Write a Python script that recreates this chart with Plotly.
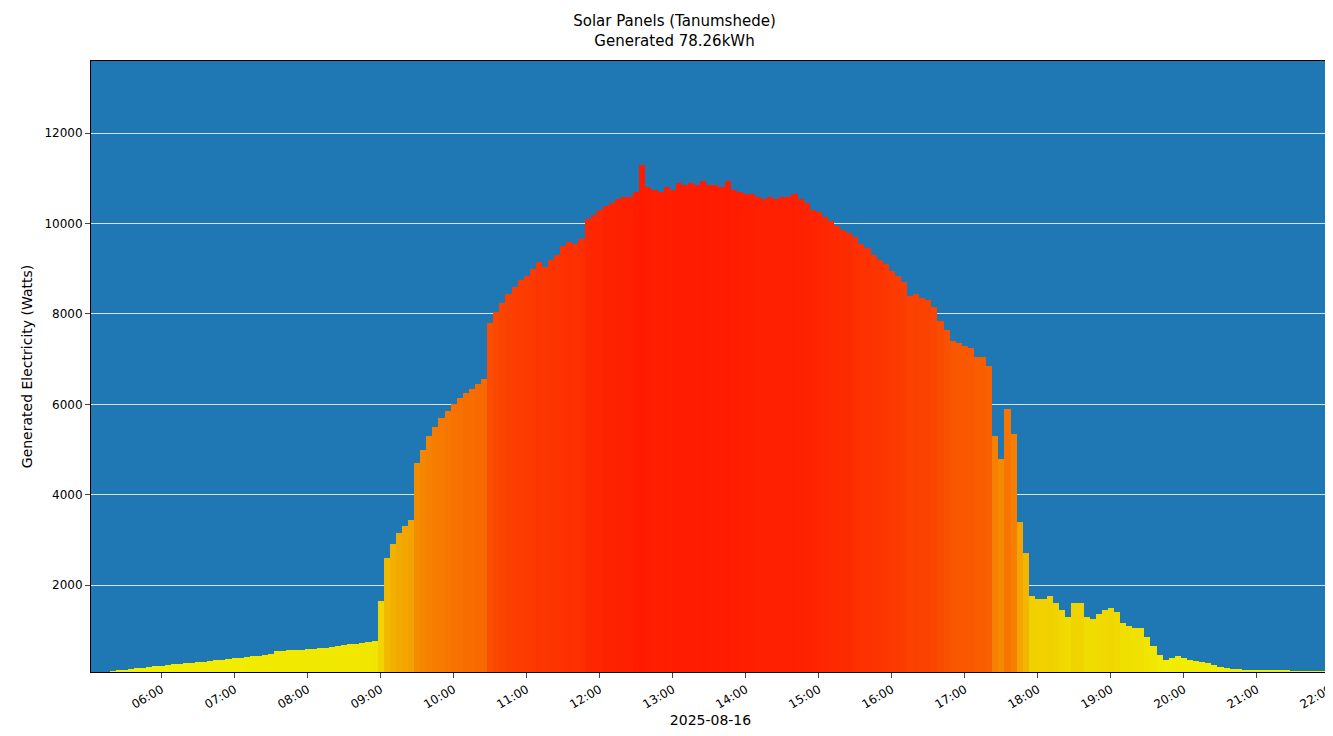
import pandas as pd
import plotly.graph_objects as go

# 5-minute readings, 05:20 .. 21:55 on 2025-08-16
start = '2025-08-16 05:20'
watts = [
    # 05:20 - 06:55
    100, 110, 125, 140, 155, 170, 185, 200, 215, 230, 245, 260, 270, 280, 290, 300, 315, 330, 345, 360,
    # 07:00 - 07:55
    375, 390, 405, 420, 440, 460, 480, 530, 545, 555, 565, 570,
    # 08:00 - 08:55
    580, 590, 600, 615, 630, 650, 670, 685, 700, 715, 730, 760,
    # 09:00 - 09:55
    1650, 2600, 2900, 3150, 3300, 3450, 4700, 5000, 5300, 5500, 5700, 5850,
    # 10:00 - 10:55
    6000, 6150, 6250, 6350, 6450, 6550, 7800, 8050, 8250, 8450, 8600, 8750,
    # 11:00 - 11:55
    8850, 9000, 9150, 9050, 9200, 9300, 9500, 9600, 9550, 9650, 10100, 10200,
    # 12:00 - 12:55
    10300, 10400, 10450, 10550, 10600, 10600, 10700, 11300, 10800, 10750, 10700, 10800,
    # 13:00 - 13:55
    10750, 10900, 10850, 10900, 10850, 10950, 10850, 10850, 10800, 10950, 10750, 10700,
    # 14:00 - 14:55
    10650, 10650, 10600, 10550, 10600, 10550, 10600, 10600, 10650, 10550, 10450, 10300,
    # 15:00 - 15:55
    10250, 10150, 10050, 9950, 9850, 9800, 9700, 9550, 9450, 9300, 9200, 9100,
    # 16:00 - 16:55
    8950, 8850, 8700, 8400, 8450, 8350, 8300, 8150, 7850, 7650, 7400, 7350,
    # 17:00 - 17:55
    7300, 7250, 7050, 7050, 6850, 5300, 4800, 5900, 5350, 3400, 2700, 1750,
    # 18:00 - 18:55
    1700, 1700, 1750, 1600, 1450, 1300, 1600, 1600, 1300, 1250, 1350, 1450,
    # 19:00 - 19:55
    1500, 1400, 1150, 1100, 1050, 1050, 850, 650, 450, 350, 380, 420,
    # 20:00 - 20:55
    380, 340, 320, 300, 280, 240, 190, 160, 145, 135, 128, 122,
    # 21:00 - 21:55
    118, 116, 114, 112, 110, 110, 108, 108, 106, 105, 104, 104,
]
times = pd.date_range(start, periods=len(watts), freq='5min')
tick_times = pd.date_range('2025-08-16 06:00', '2025-08-16 22:00', freq='1h')
tick_labels = [t.strftime('%H:%M') for t in tick_times]

heat = [[0.0, '#f2f200'], [0.12, '#f0dc00'], [0.3, '#f3a600'],
        [0.55, '#f77200'], [0.75, '#fb4400'], [1.0, '#ff1a00']]

bars = go.Bar(
    x=times, y=watts,
    marker=dict(color=watts, colorscale=heat, cmin=0, cmax=11000, line=dict(width=0)),
    width=5 * 60 * 1000,
    showlegend=False,
)

layout = go.Layout(
    width=1333, height=736,
    margin=dict(l=83, r=11, t=53, b=72, autoexpand=False),
    title=dict(text='Solar Panels (Tanumshede)<br>Generated 78.26kWh', x=0.5, xanchor='center',
               y=0.975, yanchor='top', font=dict(size=15, color='black')),
    font=dict(family='DejaVu Sans', size=12, color='black'),
    paper_bgcolor='white', plot_bgcolor='#1f77b4',
    bargap=0,
    xaxis=dict(title=dict(text='2025-08-16', standoff=4), range=['2025-08-16 05:02', '2025-08-16 22:00'],
               tickvals=tick_times, ticktext=tick_labels, tickangle=-30, automargin=False,
               showgrid=False, ticks='outside', ticklen=5, showline=True, linecolor='black',
               mirror=True, zeroline=False),
    yaxis=dict(title=dict(text='Generated Electricity (Watts)', standoff=8), range=[75, 13600],
               tickvals=[2000, 4000, 6000, 8000, 10000, 12000], tickformat='d', automargin=False,
               showgrid=True, gridcolor='rgba(255,255,255,0.8)', gridwidth=1,
               ticks='outside', ticklen=5, showline=True, linecolor='black',
               mirror=True, zeroline=False),
)

fig = go.Figure(data=[bars], layout=layout)
fig.write_html('out.html')
